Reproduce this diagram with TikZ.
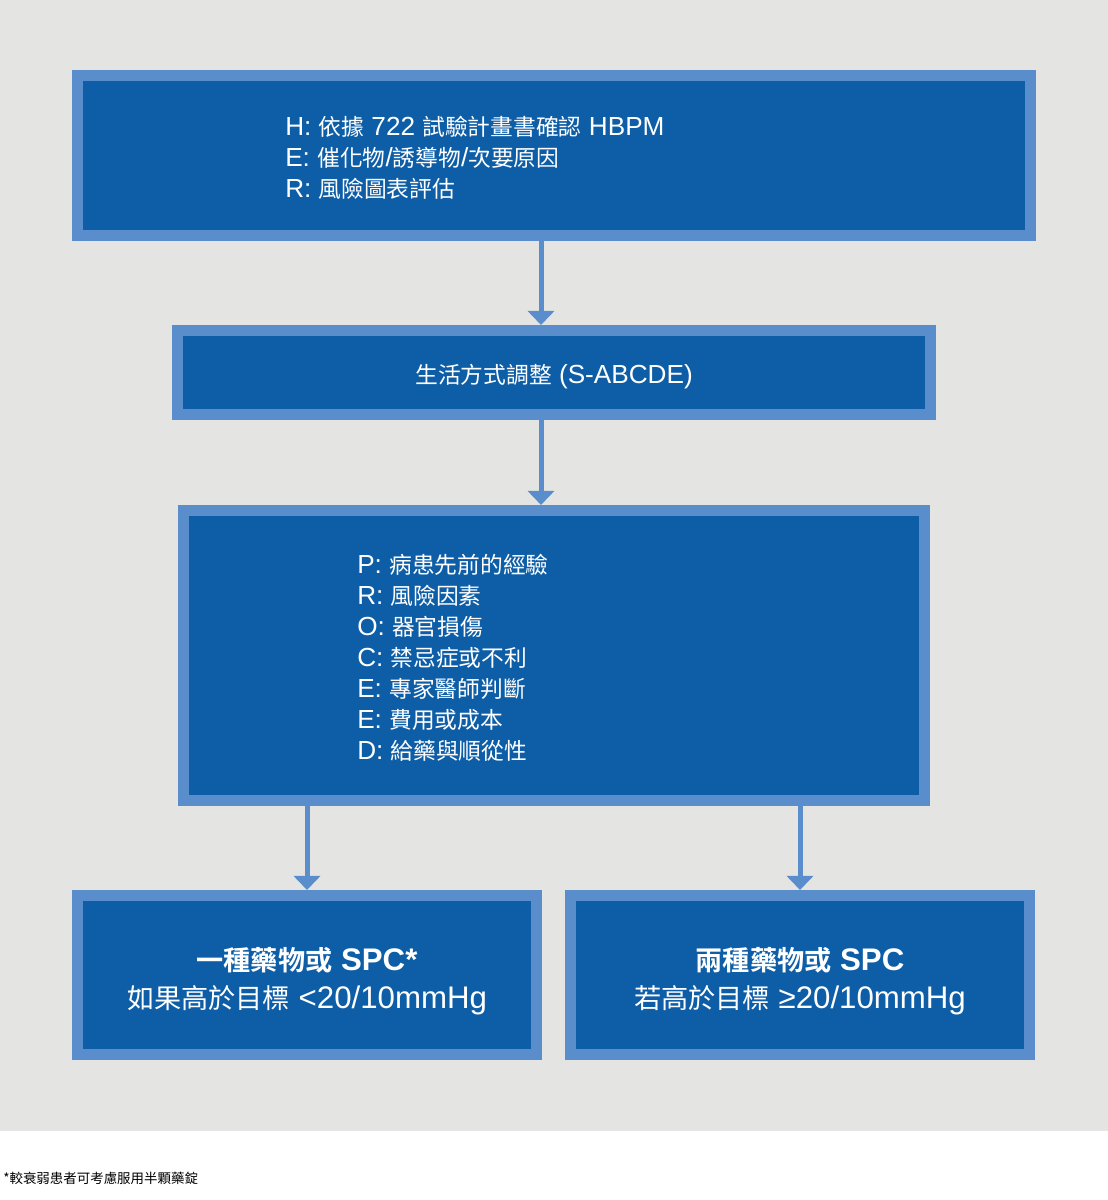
\documentclass[tikz,border=0pt]{standalone}
\usepackage{fontspec}
\setmainfont{Liberation Sans}
\newfontfamily\cjk{Noto Sans CJK TC}[Scale=0.87,BoldFont={Noto Sans CJK TC Bold}]
\newcommand{\zh}[1]{{\cjk #1}}
\usetikzlibrary{arrows.meta,calc}
\definecolor{boxblue}{RGB}{14,94,167}
\definecolor{rimblue}{RGB}{90,141,203}
\definecolor{pagegray}{RGB}{228,228,227}
\begin{document}
\begin{tikzpicture}[x=0.025cm,y=-0.025cm,
		box/.style={draw=rimblue,fill=boxblue,line width=0.275cm,line join=miter,inner sep=0pt},
		txt/.style={text=white,align=left,anchor=west,inner sep=0pt,font={\fontsize{18.6}{22}\selectfont}},
		big/.style={text=white,align=center,inner sep=0pt,font={\fontsize{22.2}{27}\selectfont}},
		flow/.style={draw=rimblue,line width=0.125cm,-{Triangle[width=0.65cm,length=0.35cm]}}]
	\useasboundingbox (0,0) rectangle (1108,1200);
	\fill[pagegray] (0,0) rectangle (1108,1131);
	% boxes
	\node[box,minimum width=23.825cm,minimum height=4cm] (hert) at (554,155.5) {};
	\node[box,minimum width=18.8cm,minimum height=2.1cm] (life) at (554,372.5) {};
	\node[box,minimum width=18.525cm,minimum height=7.25cm] (prec) at (554,655.5) {};
	\node[box,minimum width=11.475cm,minimum height=3.975cm] (onedrug) at (307,975) {};
	\node[box,minimum width=11.475cm,minimum height=3.975cm] (twodrug) at (800,975) {};
	% texts
	\node[txt] (herttxt) at (285,158) {H: \zh{依據} 722 \zh{試驗計畫書確認} HBPM\\E: \zh{催化物}/\zh{誘導物}/\zh{次要原因}\\R: \zh{風險圖表評估}};
	\node[txt,anchor=center] (lifetxt) at (554,377) {\zh{生活方式調整} (S-ABCDE)};
	\node[txt] (prectxt) at (357,658) {P: \zh{病患先前的經驗}\\R: \zh{風險因素}\\O: \zh{器官損傷}\\C: \zh{禁忌症或不利}\\E: \zh{專家醫師判斷}\\E: \zh{費用或成本}\\D: \zh{給藥與順從性}};
	\node[big] (onetxt) at (307,981) {\textbf{\zh{一種藥物或} SPC*}\\\zh{如果高於目標} <20/10mmHg};
	\node[big] (twotxt) at (800,981) {\textbf{\zh{兩種藥物或} SPC}\\\zh{若高於目標} ≥20/10mmHg};
	\node[anchor=west,inner sep=0pt,font={\fontsize{11}{12}\selectfont}] (note) at (3,1178) {\zh{*較衰弱患者可考慮服用半顆藥錠}};
	% arrows
	\draw[flow] ($(hert.south)+(-13,0)$) -- ($(life.north)+(-13,0)$);
	\draw[flow] ($(life.south)+(-13,0)$) -- ($(prec.north)+(-13,0)$);
	\draw[flow] (prec.south -| onedrug.north) -- (onedrug.north);
	\draw[flow] (prec.south -| twodrug.north) -- (twodrug.north);
\end{tikzpicture}
\end{document}
